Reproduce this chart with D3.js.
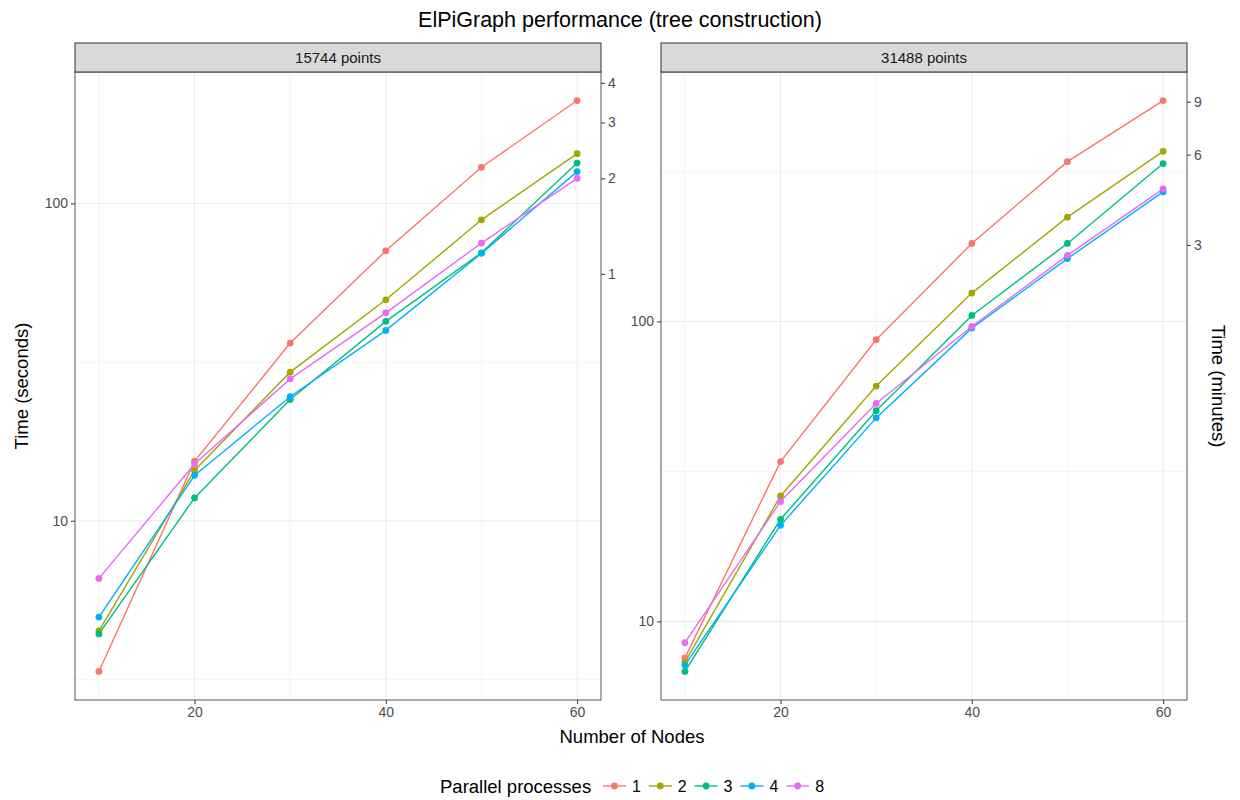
<!DOCTYPE html>
<html>
<head>
<meta charset="utf-8">
<style>
  body { margin: 0; background: #fff; }
  svg text { font-family: "Liberation Sans", Arial, sans-serif; }
  .tick text { fill: #4d4d4d; font-size: 14px; }
  .tick line { stroke: #333; }
  .domain { display: none; }
</style>
</head>
<body>
<div id="chart"></div>
<script src="https://cdnjs.cloudflare.com/ajax/libs/d3/7.8.5/d3.min.js"></script>
<script>
// number of nodes on the x axis
const nodes = [10, 20, 30, 40, 50, 60];
const processes = ["1", "2", "3", "4", "8"];
const colors = ["#F8766D", "#A3A500", "#00BF7D", "#00B0F6", "#E76BF3"];
const facets = ["15744 points", "31488 points"];

// seconds, one row per number of parallel processes (1,2,3,4,8)
const secs15744 = [
  [3.35, 15.4, 36.3, 70.9, 130, 211],
  [4.5, 14.4, 29.4, 49.7, 88.8, 143.5],
  [4.4, 11.8, 24.1, 42.5, 69.9, 134],
  [4.97, 13.9, 24.6, 39.8, 69.6, 126],
  [6.58, 15.1, 28.0, 45.2, 75, 120]
];
const secs31488 = [
  [7.56, 34.1, 86.9, 182, 341, 545],
  [7.32, 26.2, 60.9, 124.3, 222.7, 369],
  [6.81, 21.9, 50.4, 104.7, 182, 336],
  [7.15, 20.9, 47.7, 95, 162, 270.5],
  [8.49, 25.1, 53.3, 96.2, 166, 276.8]
];
const xTicks = [20, 40, 60];
const minuteTicks = [[1, 2, 3, 4], [3, 6, 9]];

const W = 1240, H = 800;
const stripTop = 43, panelTop = 72, panelBottom = 700;
const panelLefts = [75, 661], panelW = 526;

const svg = d3.select("#chart").append("svg")
    .attr("width", W).attr("height", H);

svg.append("text")
    .attr("x", 620).attr("y", 27)
    .attr("text-anchor", "middle")
    .style("font-size", "21.5px")
    .text("ElPiGraph performance (tree construction)");

function logExpand(vals) {
  const [a, b] = d3.extent(vals).map(Math.log10);
  const pad = (b - a) * 0.05;
  return [Math.pow(10, a - pad), Math.pow(10, b + pad)];
}

const xPad = (d3.max(nodes) - d3.min(nodes)) * 0.05;

[secs15744, secs31488].forEach((series, fi) => {
  const left = panelLefts[fi];
  const x = d3.scaleLinear()
      .domain([d3.min(nodes) - xPad, d3.max(nodes) + xPad])
      .range([left, left + panelW]);
  const y = d3.scaleLog()
      .domain(logExpand(series.flat()))
      .range([panelBottom, panelTop]);

  const [lo, hi] = y.domain().map(Math.log10);
  const majors = d3.range(Math.ceil(lo), Math.floor(hi) + 1).map(k => Math.pow(10, k));
  const minors = d3.range(Math.floor(lo), Math.ceil(hi) + 1)
      .map(k => Math.pow(10, k + 0.5))
      .filter(v => v > y.domain()[0] && v < y.domain()[1]);

  const g = svg.append("g");

  // grid
  g.selectAll(".vminor").data([10, 30, 50])
    .join("line")
      .attr("x1", d => x(d)).attr("x2", d => x(d))
      .attr("y1", panelTop).attr("y2", panelBottom)
      .attr("stroke", "#f2f2f2").attr("stroke-width", 0.8);
  g.selectAll(".vmajor").data(xTicks)
    .join("line")
      .attr("x1", d => x(d)).attr("x2", d => x(d))
      .attr("y1", panelTop).attr("y2", panelBottom)
      .attr("stroke", "#ebebeb").attr("stroke-width", 1.1);
  g.selectAll(".hminor").data(minors)
    .join("line")
      .attr("x1", left).attr("x2", left + panelW)
      .attr("y1", d => y(d)).attr("y2", d => y(d))
      .attr("stroke", "#f2f2f2").attr("stroke-width", 0.8);
  g.selectAll(".hmajor").data(majors)
    .join("line")
      .attr("x1", left).attr("x2", left + panelW)
      .attr("y1", d => y(d)).attr("y2", d => y(d))
      .attr("stroke", "#ebebeb").attr("stroke-width", 1.1);

  // lines then points
  const line = d3.line().x((d, i) => x(nodes[i])).y(d => y(d));
  g.selectAll(".series").data(series)
    .join("path")
      .attr("fill", "none")
      .attr("stroke", (d, i) => colors[i])
      .attr("stroke-width", 1.4)
      .attr("d", line);
  series.forEach((vals, si) => {
    g.selectAll(null).data(vals)
      .join("circle")
        .attr("cx", (d, i) => x(nodes[i]))
        .attr("cy", d => y(d))
        .attr("r", 3.4)
        .attr("fill", colors[si]);
  });

  // panel border
  g.append("rect")
      .attr("x", left).attr("y", panelTop)
      .attr("width", panelW).attr("height", panelBottom - panelTop)
      .attr("fill", "none").attr("stroke", "#595959").attr("stroke-width", 1);

  // strip
  g.append("rect")
      .attr("x", left).attr("y", stripTop)
      .attr("width", panelW).attr("height", panelTop - stripTop)
      .attr("fill", "#d9d9d9").attr("stroke", "#333").attr("stroke-width", 1);
  g.append("text")
      .attr("x", left + panelW / 2).attr("y", (stripTop + panelTop) / 2 + 5)
      .attr("text-anchor", "middle")
      .style("font-size", "15px").attr("fill", "#1a1a1a")
      .text(facets[fi]);

  // axes
  g.append("g")
      .attr("transform", `translate(0,${panelBottom})`)
      .call(d3.axisBottom(x).tickValues(xTicks).tickSize(4).tickPadding(3));
  g.append("g")
      .attr("transform", `translate(${left},0)`)
      .call(d3.axisLeft(y).tickValues(majors).tickFormat(d3.format("d")).tickSize(4).tickPadding(3));
  g.append("g")
      .attr("transform", `translate(${left + panelW},0)`)
      .call(d3.axisRight(y).tickValues(minuteTicks[fi].map(m => m * 60))
        .tickFormat(d => d / 60).tickSize(4).tickPadding(3));
});

// axis titles
svg.append("text")
    .attr("x", 632).attr("y", 743)
    .attr("text-anchor", "middle")
    .style("font-size", "18.5px")
    .text("Number of Nodes");
svg.append("text")
    .attr("transform", `translate(28,${(panelTop + panelBottom) / 2}) rotate(-90)`)
    .attr("text-anchor", "middle")
    .style("font-size", "18.5px")
    .text("Time (seconds)");
svg.append("text")
    .attr("transform", `translate(1212,${(panelTop + panelBottom) / 2}) rotate(90)`)
    .attr("text-anchor", "middle")
    .style("font-size", "18.5px")
    .text("Time (minutes)");

// legend
const legY = 786;
svg.append("text")
    .attr("x", 440).attr("y", legY + 6.5)
    .style("font-size", "18.5px")
    .text("Parallel processes");
const keys = svg.selectAll(".key").data(processes)
  .join("g")
    .attr("transform", (d, i) => `translate(${603 + i * 45.8},${legY})`);
keys.append("line")
    .attr("x1", 0).attr("x2", 23)
    .attr("stroke", (d, i) => colors[i]).attr("stroke-width", 1.4);
keys.append("circle")
    .attr("cx", 11.5).attr("r", 3.4)
    .attr("fill", (d, i) => colors[i]);
keys.append("text")
    .attr("x", 29).attr("y", 6)
    .style("font-size", "16px")
    .text(d => d);
</script>
</body>
</html>
